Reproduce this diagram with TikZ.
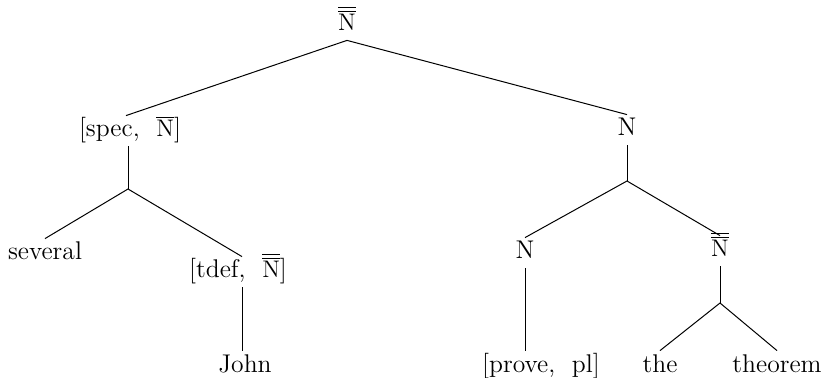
\documentclass[tikz,border=0pt]{standalone}
\begin{document}
\begin{tikzpicture}[x=0.5pt,y=-0.5pt,
  lab/.style={font=\fontsize{12.8}{15}\selectfont, anchor=base, inner xsep=0pt, inner ysep=1.5pt, text height=9pt, text depth=3pt},
  edge/.style={line width=0.5pt}]
\useasboundingbox (0,0) rectangle (823,378);
\newcommand{\NN}{$\overline{\overline{\mathrm{N}}}$}
\newcommand{\NB}{$\overline{\mathrm{N}}$}
% nodes
\node[lab] (top) at (347,31) {\NN};
\node[lab] (spec) at (130,137) {[spec,\ \ \NB]};
\node[lab] (rn) at (627,136) {N};
\node[lab] (several) at (45,260) {several};
\node[lab] (tdef) at (238,278) {[tdef,\ \ \NN]};
\node[lab] (ln) at (525,259) {N};
\node[lab] (rnn) at (720,257) {\NN};
\node[lab] (john) at (245,372) {John};
\node[lab] (prove) at (541,372) {[prove,\ \ pl]};
\node[lab] (the) at (660,372) {the};
\node[lab] (theorem) at (777,372) {theorem};
% branch points
\coordinate (b1) at (128,189);
\coordinate (b2) at (627,181);
\coordinate (b3) at (720,303);
\coordinate (spn) at ([xshift=-2pt]spec.north);
\coordinate (sps) at ([xshift=-1pt]spec.south);
\coordinate (tdn) at ([xshift=2pt]tdef.north);
\coordinate (tds) at ([xshift=2pt]tdef.south);
% edges
\draw[edge] (spn) -- (top.south) -- (rn.north);
\draw[edge] (sps) -- (b1);
\draw[edge] (several.north) -- (b1) -- (tdn);
\draw[edge] (tds) -- (tds |- john.north);
\draw[edge] (rn.south) -- (b2);
\draw[edge] (ln.north) -- (b2) -- (rnn.north);
\draw[edge] (ln.south) -- (ln.south |- prove.north);
\draw[edge] (rnn.south) -- (b3);
\draw[edge] (the.north) -- (b3) -- (theorem.north);
\end{tikzpicture}
\end{document}
